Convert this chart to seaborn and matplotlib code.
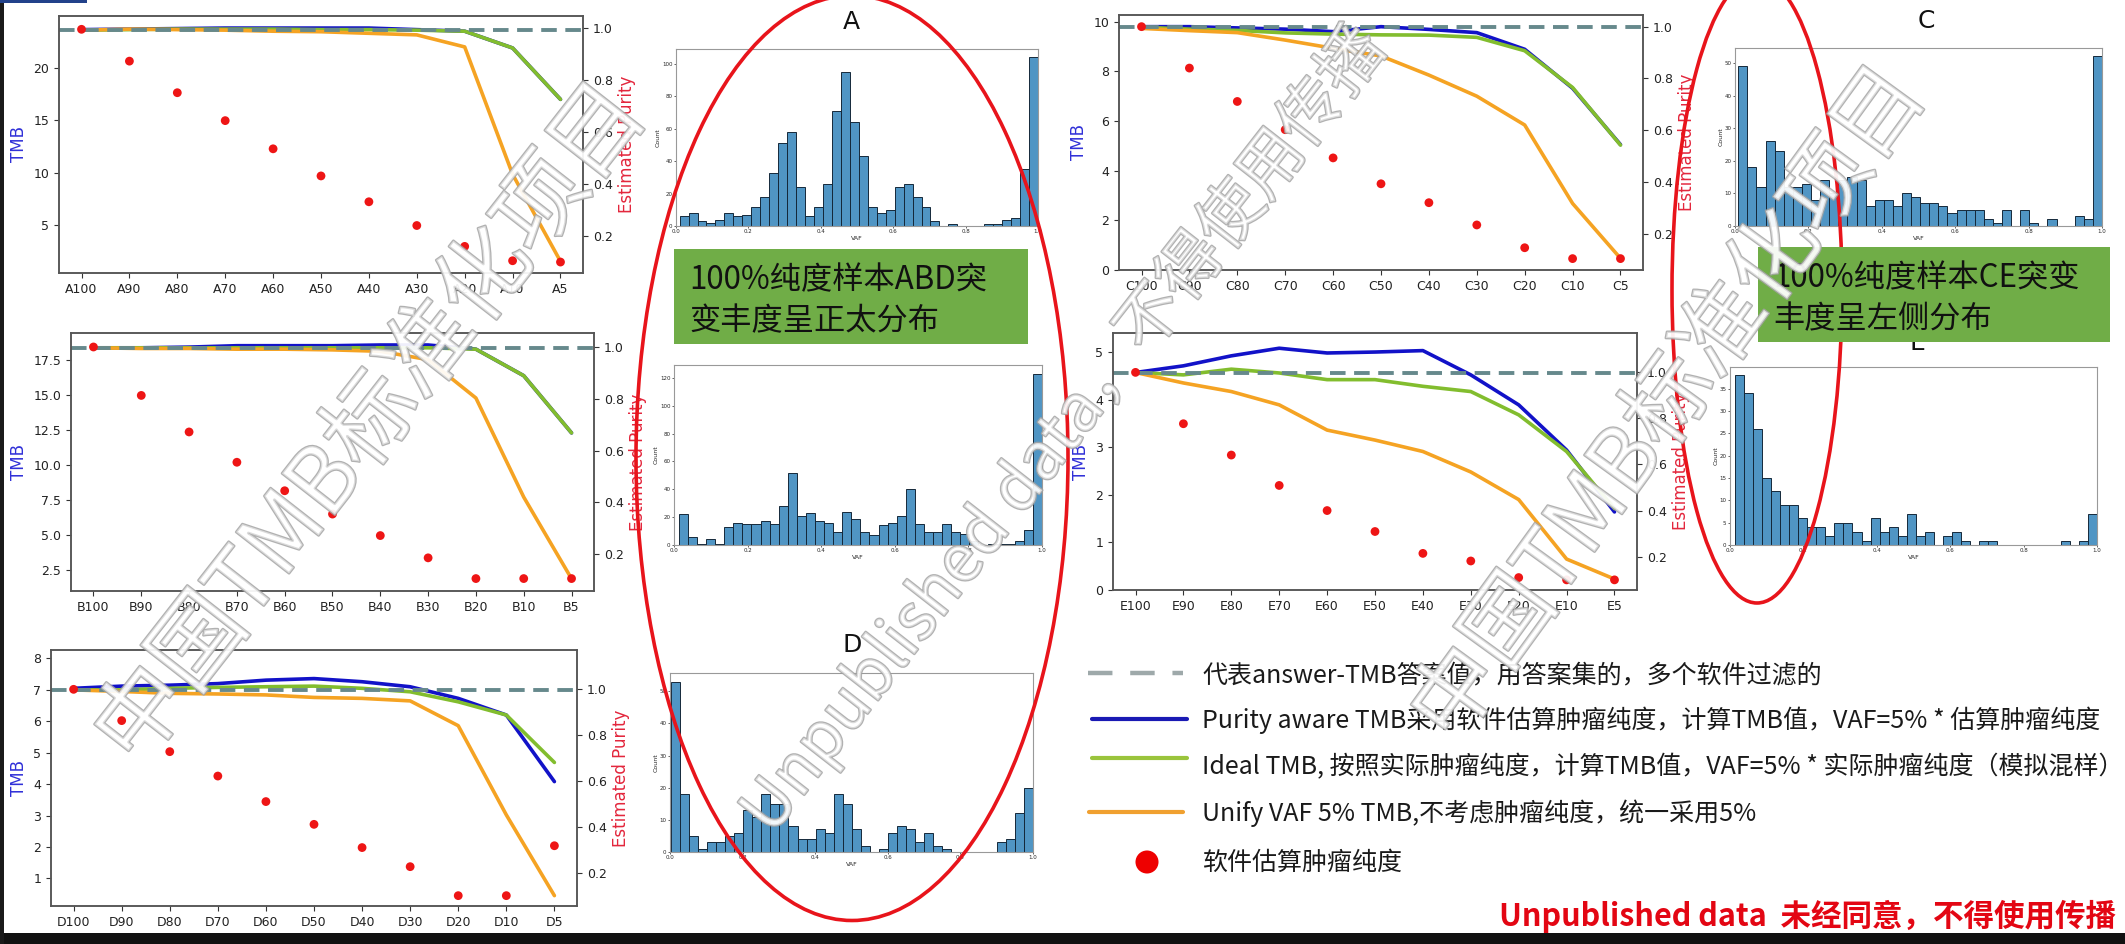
import numpy as np
import pandas as pd
import matplotlib
matplotlib.use("Agg")
import matplotlib.pyplot as plt
import seaborn as sns
from matplotlib.patches import Ellipse, Rectangle
import matplotlib.patheffects as pe

# ---------------- data ----------------
levels = ["100", "90", "80", "70", "60", "50", "40", "30", "20", "10", "5"]

A_answer = 23.64
A_purity_aware = [23.65, 23.7, 23.75, 23.8, 23.8, 23.8, 23.8, 23.65, 23.5, 21.9, 17.0]
A_ideal = [23.6, 23.65, 23.7, 23.7, 23.7, 23.65, 23.65, 23.6, 23.5, 21.9, 17.0]
A_unify = [23.6, 23.7, 23.65, 23.6, 23.5, 23.45, 23.3, 23.15, 22.0, 9.85, 1.55]
A_est = [0.994, 0.872, 0.751, 0.644, 0.536, 0.432, 0.333, 0.242, 0.162, 0.107, 0.102]

B_answer = 18.39
B_purity_aware = [18.4, 18.4, 18.45, 18.55, 18.55, 18.55, 18.6, 18.6, 18.3, 16.4, 12.3]
B_ideal = [18.4, 18.4, 18.4, 18.4, 18.4, 18.4, 18.4, 18.4, 18.3, 16.4, 12.3]
B_unify = [18.4, 18.35, 18.35, 18.3, 18.3, 18.25, 18.15, 17.55, 14.8, 7.7, 1.85]
B_est = [1.0, 0.813, 0.672, 0.555, 0.445, 0.355, 0.272, 0.186, 0.106, 0.106, 0.106]

C_answer = 9.8
C_purity_aware = [9.8, 9.8, 9.75, 9.7, 9.6, 9.8, 9.69, 9.56, 8.89, 7.32, 5.05]
C_ideal = [9.78, 9.7, 9.65, 9.55, 9.5, 9.47, 9.46, 9.37, 8.83, 7.35, 5.03]
C_unify = [9.73, 9.64, 9.56, 9.26, 8.93, 8.62, 7.85, 7.0, 5.84, 2.68, 0.47]
C_est = [1.0, 0.84, 0.711, 0.602, 0.493, 0.393, 0.32, 0.234, 0.146, 0.104, 0.104]

D_answer = 7.01
D_purity_aware = [7.05, 7.12, 7.15, 7.2, 7.31, 7.36, 7.26, 7.1, 6.73, 6.2, 4.08]
D_ideal = [7.0, 7.0, 7.05, 7.08, 7.1, 7.12, 7.05, 6.94, 6.62, 6.2, 4.69]
D_unify = [7.0, 6.95, 6.89, 6.87, 6.84, 6.76, 6.73, 6.65, 5.86, 3.02, 0.45]
D_est = [1.0, 0.864, 0.729, 0.623, 0.512, 0.413, 0.312, 0.229, 0.103, 0.103, 0.32]

E_answer = 4.57
E_purity_aware = [4.57, 4.71, 4.92, 5.08, 4.98, 5.0, 5.03, 4.52, 3.89, 2.94, 1.64]
E_ideal = [4.57, 4.52, 4.64, 4.56, 4.42, 4.42, 4.28, 4.17, 3.68, 2.91, 1.71]
E_unify = [4.57, 4.35, 4.17, 3.89, 3.36, 3.15, 2.91, 2.48, 1.9, 0.65, 0.23]
E_est = [1.0, 0.777, 0.641, 0.509, 0.4, 0.309, 0.214, 0.181, 0.109, 0.099, 0.099]

# VAF histograms of the 100% purity samples (40 bins between min VAF and 1.0)
A_vaf_range = (0.010, 1.0)
A_vaf_counts = [6, 8, 3, 2, 4, 8, 6, 7, 12, 18, 33, 51, 58, 24, 6, 12, 26, 71, 95, 64,
                43, 12, 8, 10, 24, 26, 18, 12, 3, 0, 1, 0, 0, 0, 1, 1, 4, 5, 35, 104]
B_vaf_range = (0.013, 1.0)
B_vaf_counts = [22, 6, 1, 4, 1, 13, 16, 15, 15, 17, 15, 28, 52, 21, 23, 17, 16, 9, 24, 19,
                9, 7, 14, 16, 21, 40, 15, 9, 9, 15, 9, 8, 3, 0, 1, 1, 1, 3, 11, 123]
C_vaf_range = (0.009, 1.0)
C_vaf_counts = [49, 18, 12, 26, 23, 12, 12, 13, 8, 14, 10, 14, 15, 14, 6, 8, 8, 6, 10, 9,
                7, 7, 6, 4, 5, 5, 5, 2, 1, 5, 0, 5, 1, 0, 2, 0, 0, 3, 2, 52]
D_vaf_range = (0.002, 1.0)
D_vaf_counts = [53, 18, 5, 1, 3, 3, 5, 6, 13, 11, 18, 15, 15, 8, 4, 4, 7, 6, 18, 15,
                7, 2, 0, 1, 6, 8, 7, 3, 6, 2, 1, 0, 0, 0, 0, 0, 3, 4, 12, 20]
E_vaf_range = (0.013, 1.0)
E_vaf_counts = [38, 34, 26, 15, 12, 9, 9, 6, 4, 4, 2, 5, 5, 3, 1, 6, 3, 4, 2, 7,
                2, 3, 0, 2, 3, 1, 0, 1, 1, 0, 0, 0, 0, 0, 0, 0, 1, 0, 1, 7]

legend_labels = [
    "代表answer-TMB答案值，用答案集的，多个软件过滤的",
    "Purity aware TMB采用软件估算肿瘤纯度，计算TMB值，VAF=5% * 估算肿瘤纯度",
    "Ideal TMB, 按照实际肿瘤纯度，计算TMB值，VAF=5% * 实际肿瘤纯度（模拟混样）",
    "Unify VAF 5% TMB,不考虑肿瘤纯度，统一采用5%",
    "软件估算肿瘤纯度",
]
box_texts = {"A": "100%纯度样本ABD突\n变丰度呈正太分布", "C": "100%纯度样本CE突变\n丰度呈左侧分布"}
footer_text = "Unpublished data  未经同意，不得使用传播"
watermark_cn = "中国TMB标准化项目"
watermark_en = "Unpublished data，不得使用传播"

# ---------------- style ----------------
sns.set_style("white")
plt.rcParams['font.family'] = ['DejaVu Sans']
CJK = ['Noto Sans CJK SC', 'DejaVu Sans']

C_BLUE = '#1212c8'
C_GREEN = '#82bd2e'
C_ORANGE = '#f5a323'
C_DASH = '#66898c'
C_DOT = '#ee1515'

W, H = 2125, 944
fig = plt.figure(figsize=(W / 100, H / 100), dpi=100)
fig.patch.set_facecolor('white')


def rect(x0, y0, x1, y1):
    return [x0 / W, 1 - y1 / H, (x1 - x0) / W, (y1 - y0) / H]


panels = {
    "A": dict(box=(59, 16, 583, 273), ylim=(0.44, 24.95), y2lim=(0.06, 1.045),
              pa=A_purity_aware, ideal=A_ideal, unify=A_unify, est=A_est, ans=A_answer),
    "B": dict(box=(71, 333, 594, 591), ylim=(0.97, 19.46), y2lim=(0.058, 1.054),
              pa=B_purity_aware, ideal=B_ideal, unify=B_unify, est=B_est, ans=B_answer),
    "C": dict(box=(1119, 15, 1643, 270), ylim=(0.0, 10.27), y2lim=(0.06, 1.045),
              pa=C_purity_aware, ideal=C_ideal, unify=C_unify, est=C_est, ans=C_answer),
    "D": dict(box=(51, 650, 577, 906), ylim=(0.12, 8.27), y2lim=(0.058, 1.171),
              pa=D_purity_aware, ideal=D_ideal, unify=D_unify, est=D_est, ans=D_answer),
    "E": dict(box=(1113, 333, 1637, 590), ylim=(0.0, 5.4), y2lim=(0.055, 1.171),
              pa=E_purity_aware, ideal=E_ideal, unify=E_unify, est=E_est, ans=E_answer),
}

pos = np.arange(len(levels))
for key, p in panels.items():
    ax = fig.add_axes(rect(*p["box"]))
    sns.lineplot(x=pos, y=p["pa"], ax=ax, color=C_BLUE, linewidth=2.6)
    sns.lineplot(x=pos, y=p["ideal"], ax=ax, color=C_GREEN, linewidth=2.6)
    sns.lineplot(x=pos, y=p["unify"], ax=ax, color=C_ORANGE, linewidth=2.6)
    ax.axhline(p["ans"], color=C_DASH, linewidth=2.8, linestyle=(0, (4, 2.2)))
    ax.set_xlim(-0.47, len(levels) - 0.53)
    ax.set_ylim(*p["ylim"])
    ax.set_xticks(pos)
    ax.set_xticklabels([key + lv for lv in levels])
    ax.set_ylabel("TMB", color='#3030d8', fontsize=12)
    ax.tick_params(axis='both', labelsize=9, length=3.5, width=0.8, color='#333333',
                   labelcolor='#222222', left=True, bottom=True)
    ax2 = ax.twinx()
    sns.scatterplot(x=pos, y=p["est"], ax=ax2, color=C_DOT, s=40, edgecolor='none')
    ax2.set_ylim(*p["y2lim"])
    ax2.set_ylabel("Estimated Purity", color='#e3263c', fontsize=12)
    ax2.tick_params(axis='y', labelsize=9, length=3.5, width=0.8, color='#333333',
                    labelcolor='#222222', right=True)
    for a in (ax, ax2):
        for s in a.spines.values():
            s.set_color('#555555')
            s.set_linewidth(1.1)

hists = {
    "A": ((676, 49, 1038, 226), A_vaf_range, A_vaf_counts),
    "B": ((674, 365, 1042, 545), B_vaf_range, B_vaf_counts),
    "C": ((1735, 48, 2102, 226), C_vaf_range, C_vaf_counts),
    "D": ((670, 673, 1033, 852), D_vaf_range, D_vaf_counts),
    "E": ((1730, 367, 2097, 545), E_vaf_range, E_vaf_counts),
}
for key, (box, vr, counts) in hists.items():
    hx = fig.add_axes(rect(*box))
    edges = np.linspace(vr[0], vr[1], len(counts) + 1)
    centers = (edges[:-1] + edges[1:]) / 2
    obs = pd.DataFrame({"VAF": np.repeat(centers, counts)})
    sns.histplot(data=obs, x="VAF", bins=edges.tolist(), ax=hx, color='#1f77b4',
                 alpha=0.78, edgecolor='#15293a', linewidth=0.7)
    hx.set_xlim(0, 1.0)
    hx.set_xticks([0, 0.2, 0.4, 0.6, 0.8, 1.0])
    hx.set_xlabel("VAF", fontsize=4.5, labelpad=1)
    hx.set_ylabel("Count", fontsize=4.5, labelpad=1)
    hx.tick_params(labelsize=4, length=1.5, width=0.5, pad=1, left=True, bottom=True)
    for s in hx.spines.values():
        s.set_color('#999999')
        s.set_linewidth(0.8)

# ---------------- overlay (annotations) ----------------
ov = fig.add_axes([0, 0, 1, 1], zorder=10)
ov.set_xlim(0, W)
ov.set_ylim(H, 0)
ov.axis('off')
ov.patch.set_alpha(0)

# panel letters of histograms
for letter, (x, y) in {"A": (851, 22), "B": (847, 336), "C": (1926, 21),
                       "D": (852, 645), "E": (1917, 343)}.items():
    ov.text(x, y, letter, fontsize=18, ha='center', va='center', color='#111111', zorder=1)

# red ellipses
ov.add_patch(Ellipse((852, 458), 432, 925, fill=False, edgecolor='#e8141b', linewidth=2.6, zorder=2))
ov.add_patch(Ellipse((1757, 290), 170, 626, fill=False, edgecolor='#e8141b', linewidth=2.6, zorder=2))

# green boxes
for key, (x0, y0, x1, y1, tx) in {"A": (674, 249, 1028, 344, 689), "C": (1758, 247, 2110, 342, 1773)}.items():
    ov.add_patch(Rectangle((x0, y0), x1 - x0, y1 - y0, facecolor='#70ad47', edgecolor='none', zorder=3))
    ov.text(tx, (y0 + y1) / 2 + 4, box_texts[key], fontsize=22.5, family=CJK, ha='left', va='center',
            color='#111111', linespacing=1.38, zorder=4)

# legend
rows_y = [675, 720, 767, 813, 863]
ov.plot([1088, 1183], [rows_y[0] - 2, rows_y[0] - 2], color='#9ea9aa', linewidth=3.2,
        linestyle=(0, (5.5, 4)), zorder=4)
ov.plot([1092, 1187], [719, 719], color='#1a1ab4', linewidth=3, zorder=4)
ov.plot([1092, 1187], [758, 758], color='#9ac43c', linewidth=3, zorder=4)
ov.plot([1089, 1183], [812, 812], color='#f0a030', linewidth=3, zorder=4)
ov.scatter([1147], [862], s=275, color='#ee0000', edgecolor='none', zorder=4)
for y, lab in zip(rows_y, legend_labels):
    ov.text(1202, y, lab, fontsize=18, family=CJK, ha='left', va='center', color='#1a1a1a', zorder=4)

ov.text(2116, 916, footer_text, fontsize=22, family=CJK, weight='bold', ha='right', va='center',
        color='#e30613', zorder=4)

# frame pieces of the slide
ov.add_patch(Rectangle((0, 933), W, 11, facecolor='#111111', edgecolor='none', zorder=7))
ov.add_patch(Rectangle((0, 0), 4, H, facecolor='#1a1a1a', edgecolor='none', zorder=7))
ov.add_patch(Rectangle((0, 0), 87, 3, facecolor='#22418a', edgecolor='none', zorder=7))

# watermarks (hollow outline text)
wm_effect = [pe.Stroke(linewidth=1.8, foreground='#a4a4a4', alpha=0.85), pe.Normal()]
for (cx, cy, rot, fs, s) in [(372, 425, 52, 66, watermark_cn),
                            (1064, 430, 52, 47, watermark_en),
                            (1670, 405, 54, 64, watermark_cn)]:
    t = ov.text(cx, cy, s, fontsize=fs, family=CJK, rotation=rot, rotation_mode='anchor',
                ha='center', va='center', color='white', alpha=0.55, zorder=6)
    t.set_path_effects(wm_effect)

fig.savefig("out.png", dpi=100, facecolor='white')
